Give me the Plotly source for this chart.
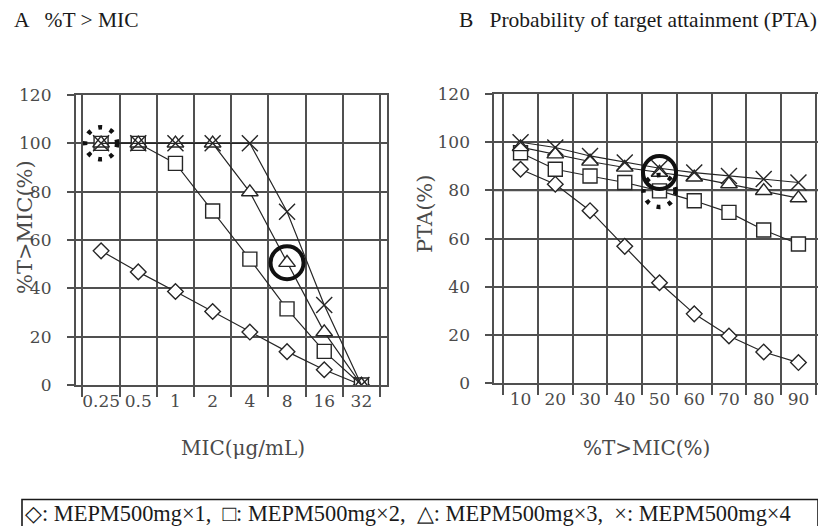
import plotly.graph_objects as go

W, H = 826, 526
OFF = 8  # page body margin: figure is drawn 8px from the window corner

# ---------------- data ----------------
mic_labels = ["0.25", "0.5", "1", "2", "4", "8", "16", "32"]
tmic_x1 = [55.5, 46.8, 38.7, 30.4, 21.9, 13.8, 6.3, 0]
tmic_x2 = [100, 100, 91.7, 72.0, 52.1, 31.5, 13.9, 0]
tmic_x3 = [100, 100, 100, 100, 79.8, 50.6, 21.9, 0]
tmic_x4 = [100, 100, 100, 100, 100, 71.7, 33.1, 0]

pta_labels = ["10", "20", "30", "40", "50", "60", "70", "80", "90"]
pta_x1 = [88.8, 82.6, 71.6, 56.8, 41.7, 28.8, 19.6, 13.0, 8.6]
pta_x2 = [95.6, 88.8, 86.0, 83.3, 79.8, 75.7, 70.9, 63.6, 57.8]
pta_x3 = [98.0, 95.0, 92.0, 89.5, 87.4, 85.4, 82.6, 79.8, 76.8]
pta_x4 = [100, 97.8, 94.3, 91.6, 89.2, 87.4, 86.0, 84.7, 83.3]

y_ticks = [0, 20, 40, 60, 80, 100, 120]

series_names = ["MEPM500mg×1", "MEPM500mg×2", "MEPM500mg×3", "MEPM500mg×4"]

# highlighted points: (panel, series index, category)
solid_highlights = [("A", 2, "8"), ("B", 2, "50")]
dotted_highlights = [("A", 1, "0.25"), ("B", 1, "50")]

title_a = "A   %T > MIC"
title_b = "B   Probability of target attainment (PTA)"
xtitle_a = "MIC(μg/mL)"
ytitle_a = "%T>MIC(%)"
xtitle_b = "%T>MIC(%)"
ytitle_b = "PTA(%)"
legend_text = "◇: MEPM500mg×1,  □: MEPM500mg×2,  △: MEPM500mg×3,  ×: MEPM500mg×4"

# ---------------- styling ----------------
symbols = ["diamond", "square", "triangle-up", "x-thin-open"]
sizes = [12, 14, 14.5, 16]
fills = ["white", "white", "white", "#262626"]
GRID = "#505050"
TXT = "#4a4a4a"
TICKFONT = dict(family="DejaVu Serif", size=17, color=TXT)
XTITLEFONT = dict(family="DejaVu Serif", size=20, color=TXT)
YTITLEFONT = dict(family="DejaVu Serif", size=21, color=TXT)

panel_data = {
    "A": (mic_labels, [tmic_x1, tmic_x2, tmic_x3, tmic_x4], "x", "y"),
    "B": (pta_labels, [pta_x1, pta_x2, pta_x3, pta_x4], "x2", "y2"),
}

fig = go.Figure()
for key, (cats, ser, xa, ya) in panel_data.items():
    for i, vals in enumerate(ser):
        fig.add_trace(go.Scatter(
            x=cats, y=vals, mode="lines+markers", name=series_names[i],
            xaxis=xa, yaxis=ya, showlegend=False,
            line=dict(color="#262626", width=1.2),
            marker=dict(symbol=symbols[i], size=sizes[i], color=fills[i],
                        line=dict(color="#262626", width=1.4)),
        ))


def px_x(p):
    return (p - OFF) / W


def px_y(p):
    return 1 - (p - OFF) / H


axis_common = dict(showgrid=True, gridcolor=GRID, gridwidth=1.5,
                   showline=True, linecolor=GRID, linewidth=1.5, mirror=True,
                   ticks="outside", tickcolor=GRID, tickwidth=1.5,
                   tickfont=TICKFONT, zeroline=False, automargin=False)

y_common = dict(range=[y_ticks[0], y_ticks[-1]], tickmode="linear",
                tick0=y_ticks[0], dtick=y_ticks[1] - y_ticks[0],
                ticklen=7, ticksuffix="\u2002\u2009", **axis_common)
x_common = dict(type="category", tickson="boundaries", ticklen=10, tickangle=0,
                categoryorder="array", **axis_common)

fig.update_layout(
    template="none",
    width=W, height=H, margin=dict(l=0, r=0, t=0, b=0, autoexpand=False),
    paper_bgcolor="white", plot_bgcolor="white", showlegend=False,
    xaxis=dict(domain=[px_x(75.5), px_x(387)], anchor="y",
               categoryarray=mic_labels, **x_common),
    yaxis=dict(domain=[px_y(385), px_y(95)], anchor="x", **y_common),
    xaxis2=dict(domain=[px_x(494), px_x(825)], anchor="y2",
                categoryarray=pta_labels, **x_common),
    yaxis2=dict(domain=[px_y(383.3), px_y(94)], anchor="x2", **y_common),
)

annotations = [
    dict(text=title_a, x=px_x(12), y=px_y(20), xanchor="left", yanchor="middle",
         font=dict(family="Liberation Serif", size=21.5, color="#1a1a1a")),
    dict(text=title_b, x=px_x(457), y=px_y(20), xanchor="left", yanchor="middle",
         font=dict(family="Liberation Serif", size=21.5, color="#1a1a1a")),
    dict(text=xtitle_a, x=px_x(243), y=px_y(448), xanchor="center", yanchor="middle",
         font=XTITLEFONT),
    dict(text=ytitle_a, x=px_x(25), y=px_y(227), xanchor="center", yanchor="middle",
         textangle=-90, font=YTITLEFONT),
    dict(text=xtitle_b, x=px_x(646), y=px_y(448), xanchor="center", yanchor="middle",
         font=XTITLEFONT),
    dict(text=ytitle_b, x=px_x(425), y=px_y(214), xanchor="center", yanchor="middle",
         textangle=-90, font=YTITLEFONT),
    dict(text=legend_text, x=px_x(23), y=px_y(513), xanchor="left", yanchor="middle",
         font=dict(family="Liberation Serif", size=22.4, color="#1a1a1a")),
]
for a in annotations:
    a.update(xref="paper", yref="paper", showarrow=False)
fig.update_layout(annotations=annotations)

shapes = [dict(type="rect", xref="paper", yref="paper", opacity=1,
               x0=px_x(22), x1=px_x(818), y0=px_y(532), y1=px_y(499.5),
               line=dict(color="#1a1a1a", width=1.6), fillcolor="rgba(0,0,0,0)")]

# horizontal grid lines at the y tick values, drawn on each panel's axes
for key, (cats, ser, xa, ya) in panel_data.items():
    for v in y_ticks[1:-1]:
        shapes.append(dict(type="line", xref=xa + " domain", yref=ya,
                           x0=0, x1=1, y0=v, y1=v, layer="below", opacity=1,
                           line=dict(color=GRID, width=1.5)))


def circle(panel, si, cat, r, dash, width):
    cats, ser, xa, ya = panel_data[panel]
    idx = cats.index(cat)
    return dict(type="circle", xref=xa, yref=ya, opacity=1,
                xsizemode="pixel", ysizemode="pixel",
                xanchor=idx, yanchor=ser[si][idx],
                x0=-r, x1=r, y0=-r, y1=r,
                line=dict(color="#111111", width=width, dash=dash),
                fillcolor="rgba(0,0,0,0)")


for p, si, c in solid_highlights:
    shapes.append(circle(p, si, c, 16.5, "solid", 4))
for p, si, c in dotted_highlights:
    shapes.append(circle(p, si, c, 16, "4px,8px", 4.5))
fig.update_layout(shapes=shapes)

fig.write_html("out.html")
